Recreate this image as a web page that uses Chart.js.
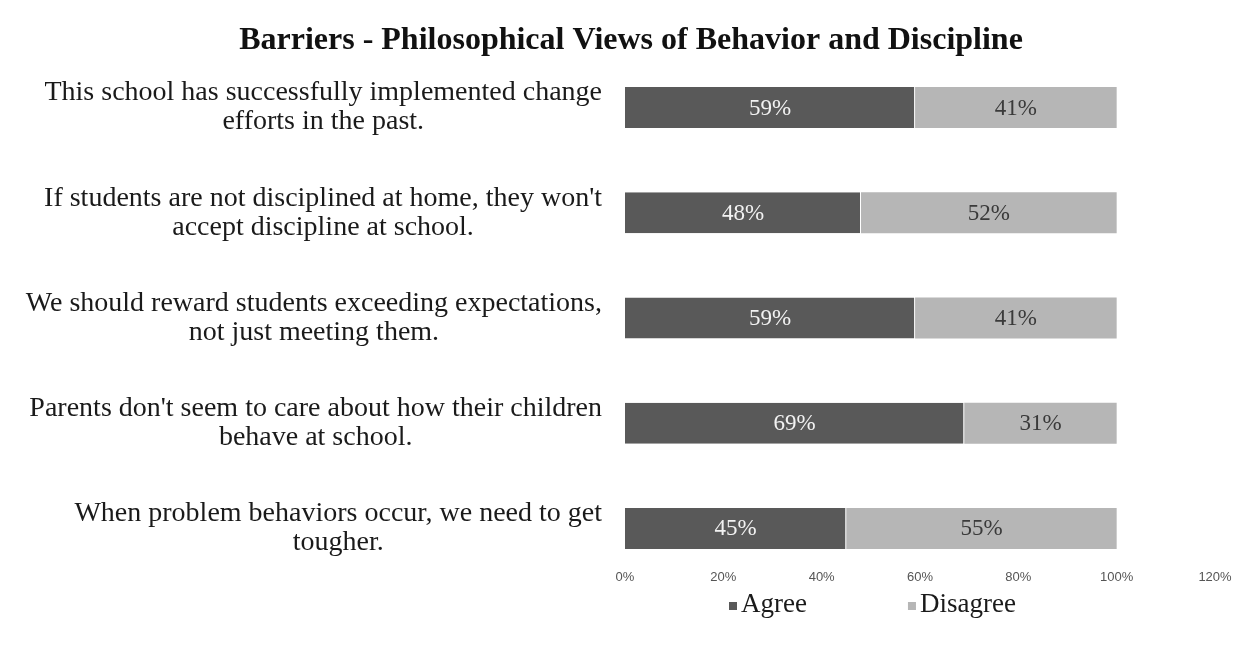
<!DOCTYPE html>
<html>
<head>
<meta charset="utf-8">
<script src="https://cdn.jsdelivr.net/npm/chart.js"></script>
<style>
  html, body { margin: 0; padding: 0; background: #fff; }
  #wrap { width: 1252px; height: 652px; }
</style>
</head>
<body>
<div id="wrap"><canvas id="chart"></canvas></div>
<script>
// Survey statements (two lines each, as wrapped in the original)
const questions = [
  ['This school has successfully implemented change', 'efforts in the past.'],
  ["If students are not disciplined at home, they won't", 'accept discipline at school.'],
  ['We should reward students exceeding expectations,', 'not just meeting them.'],
  ["Parents don't seem to care about how their children", 'behave at school.'],
  ['When problem behaviors occur, we need to get', 'tougher.']
];
const agree = [59, 48, 59, 69, 45];
const disagree = [41, 52, 41, 31, 55];
const xTicks = [0, 20, 40, 60, 80, 100, 120];
const seriesNames = ['Agree', 'Disagree'];

const serif = '"Liberation Serif", "Times New Roman", serif';
const darkGray = '#595959';
const lightGray = '#b6b6b6';

// statement labels: block right-aligned, lines centred inside it
const questionLabels = {
  id: 'questionLabels',
  afterDraw(chart) {
    const ctx = chart.ctx;
    const yScale = chart.scales.y;
    const right = chart.chartArea.left - 23;
    ctx.save();
    ctx.font = '28px ' + serif;
    ctx.fillStyle = '#1a1a1a';
    ctx.textAlign = 'center';
    ctx.textBaseline = 'middle';
    questions.forEach((lines, i) => {
      const w = Math.max(...lines.map(l => ctx.measureText(l).width));
      const cx = right - w / 2;
      const yc = yScale.getPixelForValue(i);
      lines.forEach((line, j) => {
        ctx.fillText(line, cx, yc + (j - (lines.length - 1) / 2) * 29);
      });
    });
    ctx.restore();
  }
};

// percentage text in the middle of every segment
const segmentLabels = {
  id: 'segmentLabels',
  afterDatasetsDraw(chart) {
    const ctx = chart.ctx;
    ctx.save();
    ctx.font = '23px ' + serif;
    ctx.textAlign = 'center';
    ctx.textBaseline = 'middle';
    chart.data.datasets.forEach((ds, di) => {
      chart.getDatasetMeta(di).data.forEach((bar, i) => {
        ctx.fillStyle = di === 0 ? '#f2f2f2' : '#3a3a3a';
        ctx.fillText(ds.data[i] + '%', (bar.x + bar.base) / 2, bar.y + 1);
      });
    });
    ctx.restore();
  }
};

// legend under the axis, placed like the original
const bottomLegend = {
  id: 'bottomLegend',
  afterDraw(chart) {
    const ctx = chart.ctx;
    const colors = [darkGray, lightGray];
    const y = chart.chartArea.bottom + 24;
    let x = 729;
    ctx.save();
    ctx.font = '27px ' + serif;
    ctx.textAlign = 'left';
    ctx.textBaseline = 'middle';
    seriesNames.forEach((name, i) => {
      ctx.fillStyle = colors[i];
      ctx.fillRect(x, y - 3, 8, 8);
      ctx.fillStyle = '#1a1a1a';
      ctx.fillText(name, x + 12, y);
      x += 12 + ctx.measureText(name).width + 101;
    });
    ctx.restore();
  }
};

new Chart(document.getElementById('chart'), {
  type: 'bar',
  data: {
    labels: questions,
    datasets: [
      { label: seriesNames[0], data: agree, backgroundColor: darkGray, borderColor: '#ffffff', borderWidth: { right: 1 }, borderSkipped: false },
      { label: seriesNames[1], data: disagree, backgroundColor: lightGray, borderWidth: 0 }
    ]
  },
  options: {
    indexAxis: 'y',
    responsive: true,
    maintainAspectRatio: false,
    animation: false,
    layout: { padding: { left: 47, right: 37, bottom: 71 } },
    datasets: { bar: { categoryPercentage: 1, barPercentage: 0.39 } },
    scales: {
      x: {
        stacked: true,
        min: 0,
        max: 120,
        afterBuildTicks: s => { s.ticks = xTicks.map(v => ({ value: v })); },
        grid: { display: false, drawTicks: false },
        border: { display: false },
        ticks: {
          mirror: true,
          padding: -4,
          color: '#555',
          font: { family: '"Liberation Sans Narrow", "Liberation Sans", sans-serif', size: 13 },
          callback: v => v + '%'
        }
      },
      y: {
        stacked: true,
        grid: { display: false, drawTicks: false },
        border: { display: false },
        ticks: { display: false },
        afterFit: s => { s.width = 578; }
      }
    },
    plugins: {
      legend: { display: false },
      tooltip: { enabled: false },
      title: {
        display: true,
        text: 'Barriers - Philosophical Views of Behavior and Discipline',
        color: '#111',
        font: { family: serif, size: 32, weight: 'bold', lineHeight: 1 },
        padding: { top: 25, bottom: -2 }
      }
    }
  },
  plugins: [questionLabels, segmentLabels, bottomLegend]
});
</script>
</body>
</html>
